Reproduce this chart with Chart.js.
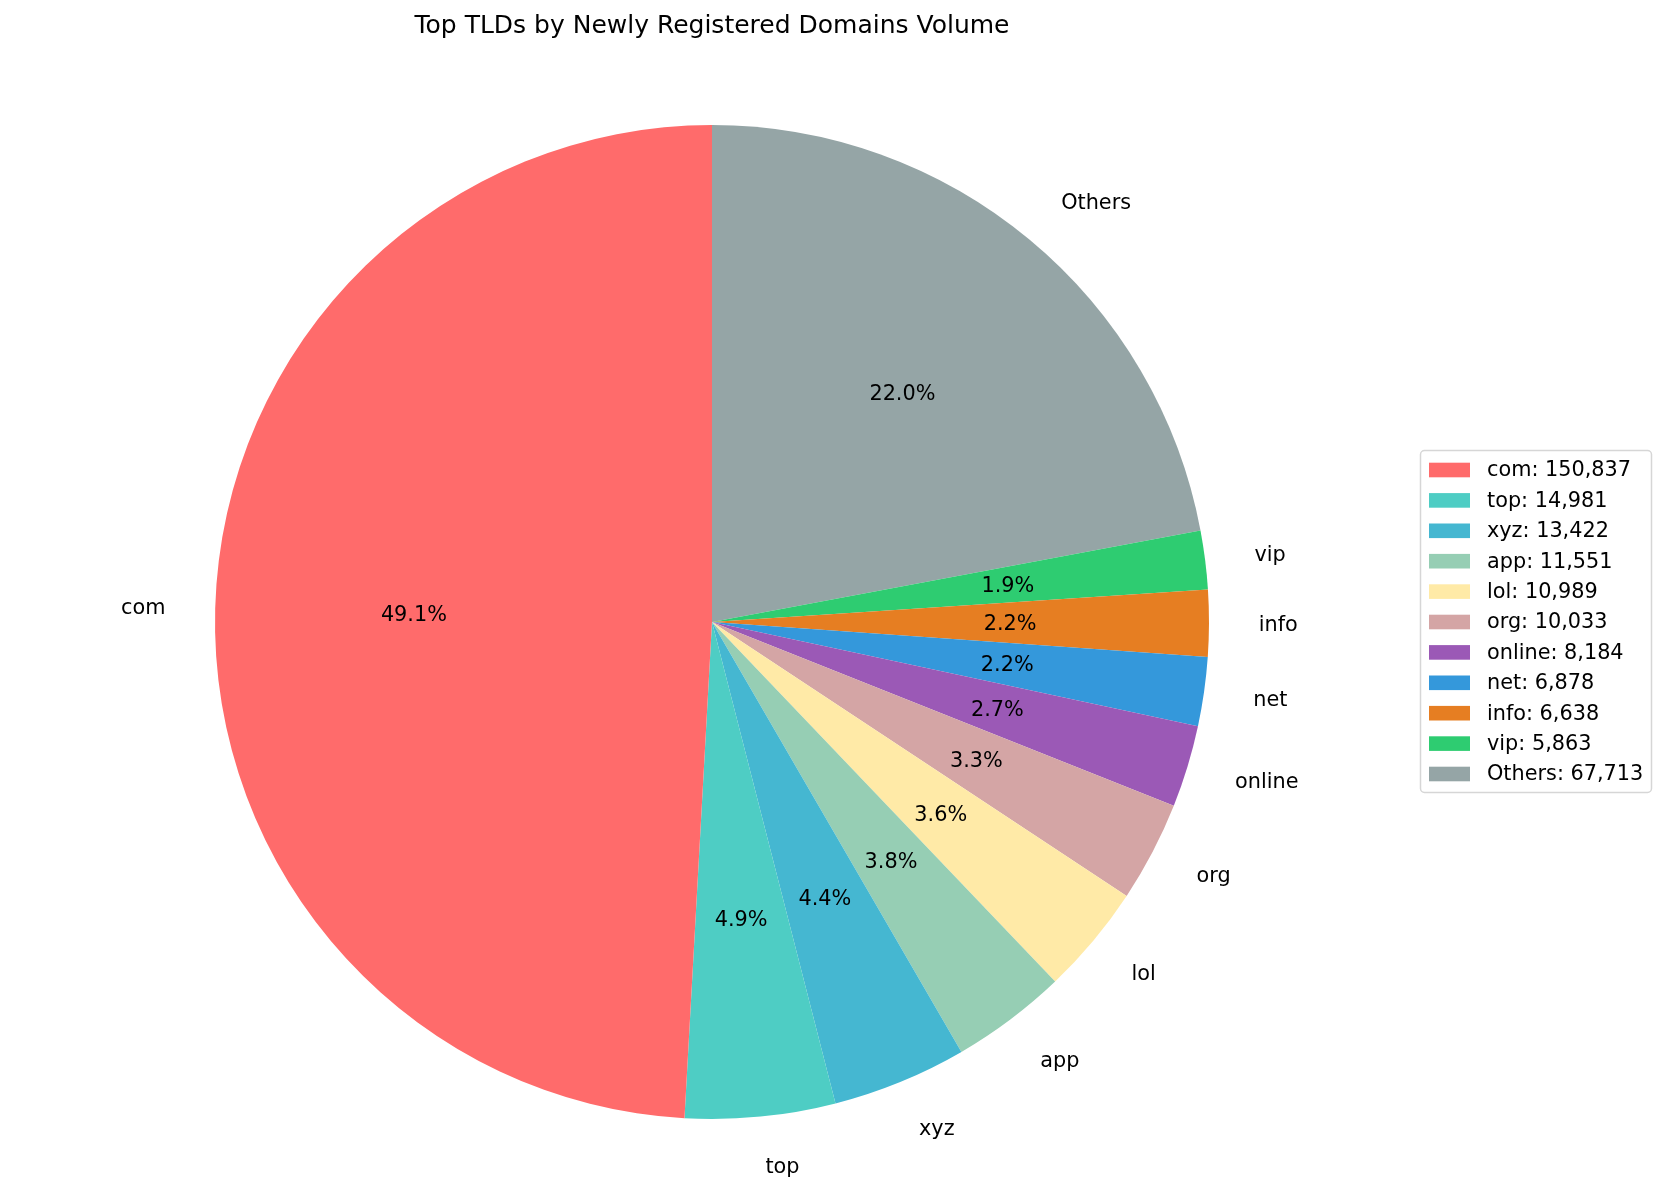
<!DOCTYPE html>
<html>
<head>
<meta charset="utf-8">
<script src="https://cdn.jsdelivr.net/npm/chart.js@4.4.1/dist/chart.umd.min.js"></script>
<style>
  html, body { margin: 0; padding: 0; background: #fff; }
  canvas { display: block; }
</style>
</head>
<body>
<canvas id="tldPie" width="1667" height="1193"></canvas>
<script>
const tlds = ['com', 'top', 'xyz', 'app', 'lol', 'org', 'online', 'net', 'info', 'vip', 'Others'];
const counts = [150837, 14981, 13422, 11551, 10989, 10033, 8184, 6878, 6638, 5863, 67713];
const colors = ['#ff6b6b', '#4ecdc4', '#45b7d1', '#96ceb4', '#ffeaa7', '#d4a5a5', '#9b59b6', '#3498db', '#e67e22', '#2ecc71', '#95a5a6'];

const FONT = '"DejaVu Sans", "Liberation Sans", sans-serif';
Chart.defaults.font.family = FONT;
Chart.defaults.color = '#000';

const total = counts.reduce((a, b) => a + b, 0);

// matplotlib draws counter-clockwise from 12 o'clock, chart.js clockwise: reverse the order
const order = tlds.map((_, i) => i).reverse();

const pieLabels = {
  id: 'pieLabels',
  afterDatasetsDraw(chart) {
    const ctx = chart.ctx;
    const arcs = chart.getDatasetMeta(0).data;
    ctx.save();
    ctx.font = '20.8px ' + FONT;
    ctx.fillStyle = '#000';
    ctx.textBaseline = 'middle';
    arcs.forEach((arc, k) => {
      const i = order[k];
      const { x, y, startAngle, endAngle, outerRadius } = arc.getProps(['x', 'y', 'startAngle', 'endAngle', 'outerRadius'], true);
      const mid = (startAngle + endAngle) / 2;
      const c = Math.cos(mid), s = Math.sin(mid);
      // outer name label
      ctx.textAlign = c > 0 ? 'left' : 'right';
      ctx.fillText(tlds[i], x + c * outerRadius * 1.1, y + s * outerRadius * 1.1 + 2);
      // percentage
      ctx.textAlign = 'center';
      const pct = (counts[i] / total * 100).toFixed(1) + '%';
      ctx.fillText(pct, x + c * outerRadius * 0.6, y + s * outerRadius * 0.6 + 2);
    });
    ctx.restore();
  }
};

const boxLegend = {
  id: 'boxLegend',
  afterDraw(chart) {
    const ctx = chart.ctx;
    const left = 1420, top = 450, w = 231, h = 342, r = 4;
    ctx.save();
    ctx.beginPath();
    ctx.roundRect(left + 0.5, top + 0.5, w, h, r);
    ctx.fillStyle = 'rgba(255,255,255,0.8)';
    ctx.fill();
    ctx.strokeStyle = '#d6d6d6';
    ctx.lineWidth = 1.5;
    ctx.stroke();
    ctx.font = '20.8px ' + FONT;
    ctx.textBaseline = 'middle';
    ctx.textAlign = 'left';
    tlds.forEach((name, i) => {
      const cy = 470 + i * 30.4;
      ctx.fillStyle = colors[i];
      ctx.fillRect(1429, cy - 7.3, 41, 14.6);
      ctx.fillStyle = '#000';
      ctx.fillText(name + ': ' + counts[i].toLocaleString('en-US'), 1487, cy + 1);
    });
    ctx.restore();
  }
};

new Chart(document.getElementById('tldPie'), {
  type: 'pie',
  data: {
    labels: order.map(i => tlds[i]),
    datasets: [{
      data: order.map(i => counts[i]),
      backgroundColor: order.map(i => colors[i]),
      borderWidth: 0
    }]
  },
  options: {
    responsive: false,
    animation: false,
    rotation: 0,
    layout: { padding: { left: 215, right: 458, top: 0, bottom: 74 } },
    plugins: {
      legend: { display: false },
      tooltip: { enabled: false },
      title: {
        display: true,
        text: 'Top TLDs by Newly Registered Domains Volume',
        color: '#000',
        font: { size: 25, weight: 'normal', lineHeight: 1.2 },
        padding: { top: 11.5, bottom: 83.5 }
      }
    }
  },
  plugins: [pieLabels, boxLegend]
});
</script>
</body>
</html>
